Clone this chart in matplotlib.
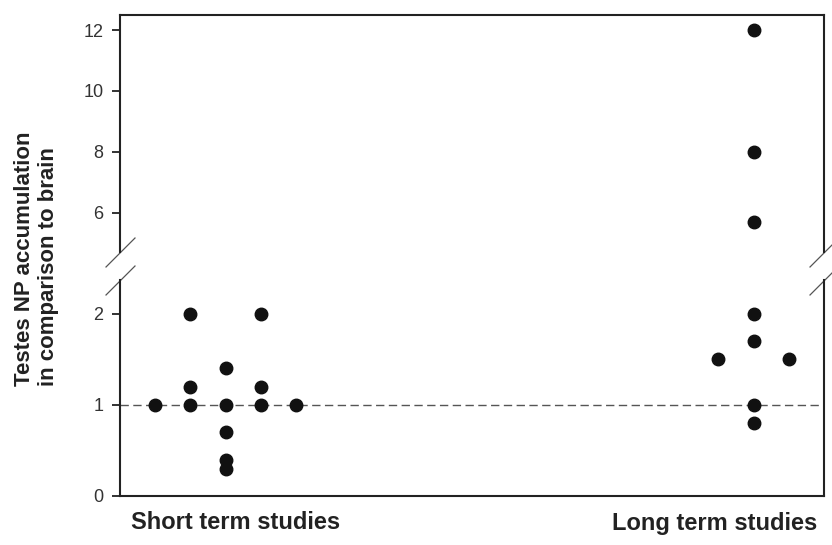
import matplotlib
matplotlib.use("Agg")
import matplotlib.pyplot as plt
import numpy as np

plt.rcParams['font.family'] = ['Liberation Sans', 'DejaVu Sans']

# ---- data ----
categories = ["Short term studies", "Long term studies"]
short_values = [1, 2, 1.2, 1, 1.4, 1, 0.7, 0.4, 0.3, 2, 1.2, 1, 1]
short_slots = [-2, -1, -1, -1, 0, 0, 0, 0, 0, 1, 1, 1, 2]
long_values = [12, 8, 5.7, 2, 1.7, 1, 0.8, 1.5, 1.5]
long_slots = [0, 0, 0, 0, 0, 0, 0, -1, 1]
reference_level = 1
lower_ticks = [0, 1, 2]
upper_ticks = [6, 8, 10, 12]

# ---- layout ----
group_centres = [0, 15]
W, H = 832, 545
fig = plt.figure(figsize=(W / 100, H / 100), dpi=100)

left_px, right_px = 120, 824
up_top, up_bot = 15, 252
lo_top, lo_bot = 280, 496

def rect(top, bot):
    return [left_px / W, 1 - bot / H, (right_px - left_px) / W, (bot - top) / H]

ax_up = fig.add_axes(rect(up_top, up_bot))
ax_lo = fig.add_axes(rect(lo_top, lo_bot))

spine_col = '#222222'
for ax in (ax_up, ax_lo):
    for sp in ax.spines.values():
        sp.set_linewidth(1.5)
        sp.set_color(spine_col)
    ax.set_xlim(-3, 17)
    ax.set_xticks([])
    ax.tick_params(axis='y', direction='out', length=6, width=1.3,
                   color=spine_col, labelsize=13, labelcolor='#333333', pad=6)
    xs = np.concatenate([group_centres[0] + np.array(short_slots),
                         group_centres[1] + np.array(long_slots)])
    ys = np.concatenate([short_values, long_values])
    ax.plot(xs, ys, 'o', color='#111111', ms=9, linestyle='none', zorder=3)

ax_up.set_ylim(4.7, 12.5)
ax_up.set_yticks(upper_ticks)
ax_up.spines['bottom'].set_visible(False)

ax_lo.set_ylim(0, 2.37)
ax_lo.set_yticks(lower_ticks)
ax_lo.spines['top'].set_visible(False)
ax_lo.axhline(reference_level, color='#555555', lw=1.0, dashes=(6, 3.2), zorder=1)

# break marks
kw = dict(marker=[(-1, -1), (1, 1)], markersize=21.5, linestyle='none',
          color='#555555', mec='#555555', mew=0.9, clip_on=False)
ax_up.plot([0, 1], [0, 0], transform=ax_up.transAxes, **kw)
ax_lo.plot([0, 1], [1, 1], transform=ax_lo.transAxes, **kw)

# category labels
ax_lo.text(11 / (right_px - left_px), -0.07, categories[0], transform=ax_lo.transAxes,
           ha='left', va='top', fontsize=17, fontweight='bold', color='#222222')
ax_lo.text(1 - 7 / (right_px - left_px), -0.075, categories[1], transform=ax_lo.transAxes,
           ha='right', va='top', fontsize=17, fontweight='bold', color='#222222')

fig.text(36.5 / W, 1 - 259 / H, "Testes NP accumulation\nin comparison to brain",
         rotation=90, ha='center', va='center', multialignment='left',
         fontsize=16, fontweight='bold', color='#222222', linespacing=1.2)

fig.savefig("out.png", dpi=100)
